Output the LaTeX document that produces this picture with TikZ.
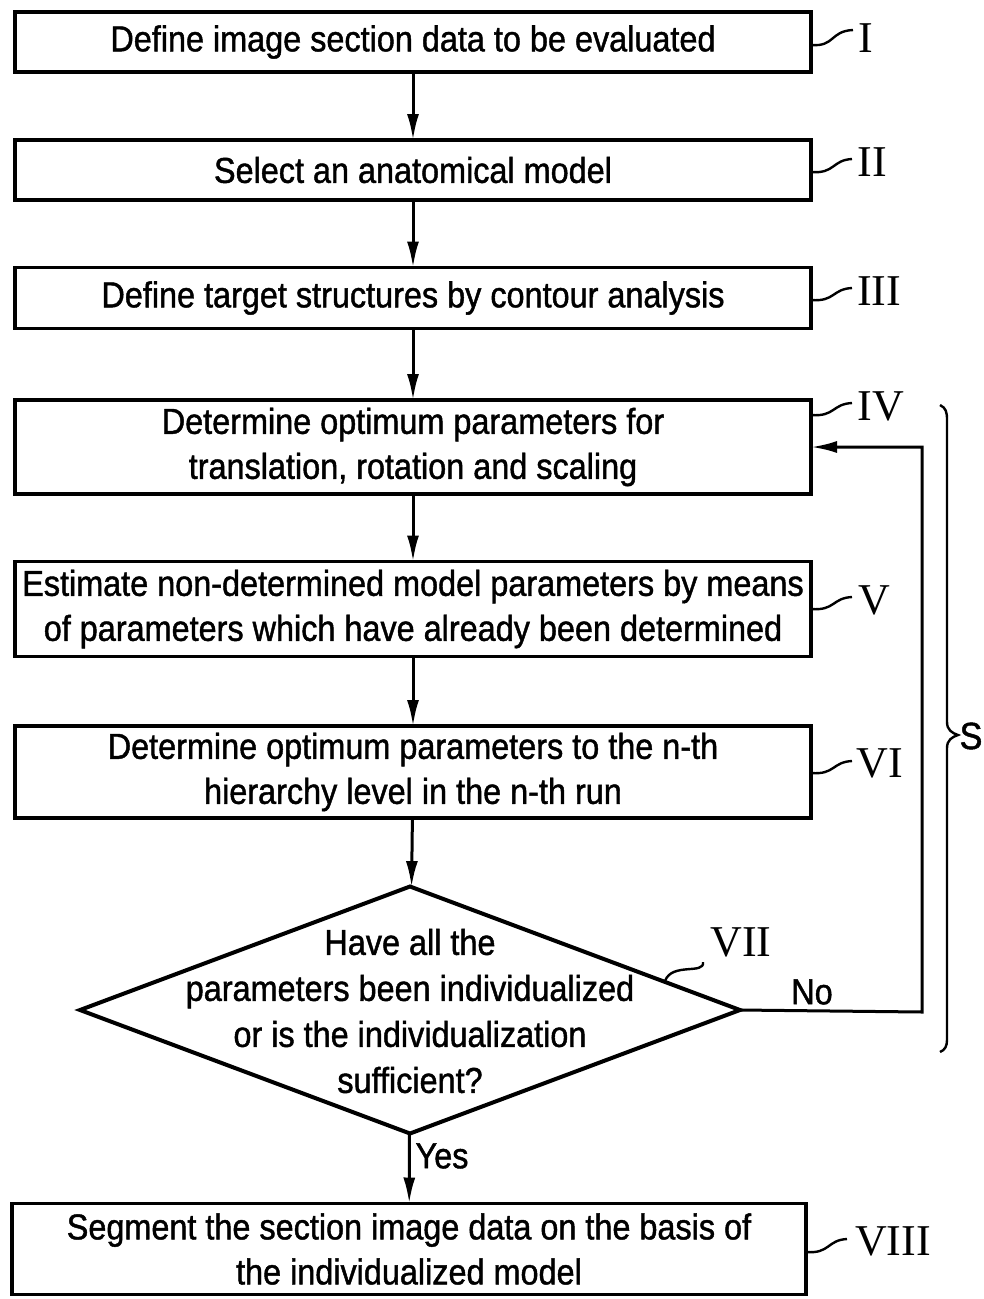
\documentclass[tikz,border=0pt]{standalone}
\usepackage{fontspec}
\newfontfamily\boxfont[FakeStretch=0.9,FakeBold=1.2]{Liberation Sans}
\newfontfamily\numfont{Liberation Serif}
\usetikzlibrary{shapes.geometric,arrows.meta}
\begin{document}
\begin{tikzpicture}[x=1pt,y=-1pt,
  stepbox/.style={draw,line width=3.4pt,rectangle,minimum width=796,inner sep=0,outer sep=0,align=center,font=\boxfont\fontsize{36}{45}\selectfont},
  arr/.style={line width=3pt,-{Latex[length=26pt,width=12pt]}},
  num/.style={font=\numfont\fontsize{44}{44}\selectfont,inner sep=0},
  tilde/.style={line width=2.4pt},
  txt/.style={font=\boxfont\fontsize{36}{46}\selectfont,inner sep=0,align=center}]
\useasboundingbox (0,0) rectangle (983,1299);
\node[stepbox,minimum height=60] (b1) at (413,42) {Define image section data to be evaluated};
\node[stepbox,minimum height=60] (b2) at (413,170) {Select an anatomical model};
\node[stepbox,minimum height=61] (b3) at (413,298) {Define target structures by contour analysis};
\node[stepbox,minimum height=94] (b4) at (413,447) {Determine optimum parameters for\\translation, rotation and scaling};
\node[stepbox,minimum height=95] (b5) at (413,609) {Estimate non-determined model parameters by means\\of parameters which have already been determined};
\node[stepbox,minimum height=92] (b6) at (413,772) {Determine optimum parameters to the n-th\\hierarchy level in the n-th run};
\node[draw,diamond,line width=4pt,minimum width=660,minimum height=247,inner sep=0,outer sep=0] (d) at (410,1010) {};
\node[txt] (dt) at (410,1011) {Have all the\\parameters been individualized\\or is the individualization\\sufficient?};
\node[stepbox,minimum width=794,minimum height=91] (b8) at (409,1249) {Segment the section image data on the basis of\\the individualized model};

\draw[arr] (b1) -- (b2);
\draw[arr] (b2) -- (b3);
\draw[arr] (b3) -- (b4);
\draw[arr] (b4) -- (b5);
\draw[arr] (b5) -- (b6);
\draw[arr] (b6) -- (d);
\draw[arr] (d) -- (b8);
\coordinate (lp) at (922,1012);
\draw[arr] (d.east) -- (lp) |- (b4.east);
\node[txt] (no) at (812,992) {No};
\node[txt] (yes) at (442,1156) {Yes};

\node[num] (n1) at (866,38) {I};
\node[num] (n2) at (872,162) {II};
\node[num] (n3) at (879,291) {III};
\node[num] (n4) at (881,406) {IV};
\node[num] (n5) at (874,600) {V};
\node[num] (n6) at (880,763) {VI};
\node[num] (n7) at (741,942) {VII};
\node[num] (n8) at (893,1241) {VIII};
\draw[tilde] (811,45) .. controls (835,47) and (830,31) .. (853,30);
\draw[tilde] (811,172) .. controls (835,174) and (832,160) .. (852,159);
\draw[tilde] (811,300) .. controls (835,302) and (832,289) .. (852,288);
\draw[tilde] (811,415) .. controls (835,417) and (832,404) .. (852,403);
\draw[tilde] (811,609) .. controls (835,611) and (832,598) .. (852,597);
\draw[tilde] (811,773) .. controls (835,775) and (832,762) .. (852,761);
\draw[tilde] (806,1252) .. controls (830,1254) and (827,1240) .. (847,1239);
\draw[tilde] (665,981) .. controls (672,962) and (705,975) .. (703,962);

\draw[line width=2.4pt] (940,405) .. controls (946,408) and (947,412) .. (947,420) -- (947,722) .. controls (947,730) and (952,733) .. (958,735) .. controls (952,737) and (947,740) .. (947,748) -- (947,1040) .. controls (947,1046) and (945,1050) .. (940,1052);
\node[txt,font=\boxfont\fontsize{38}{38}\selectfont] (s) at (971,736) {S};
\end{tikzpicture}
\end{document}
